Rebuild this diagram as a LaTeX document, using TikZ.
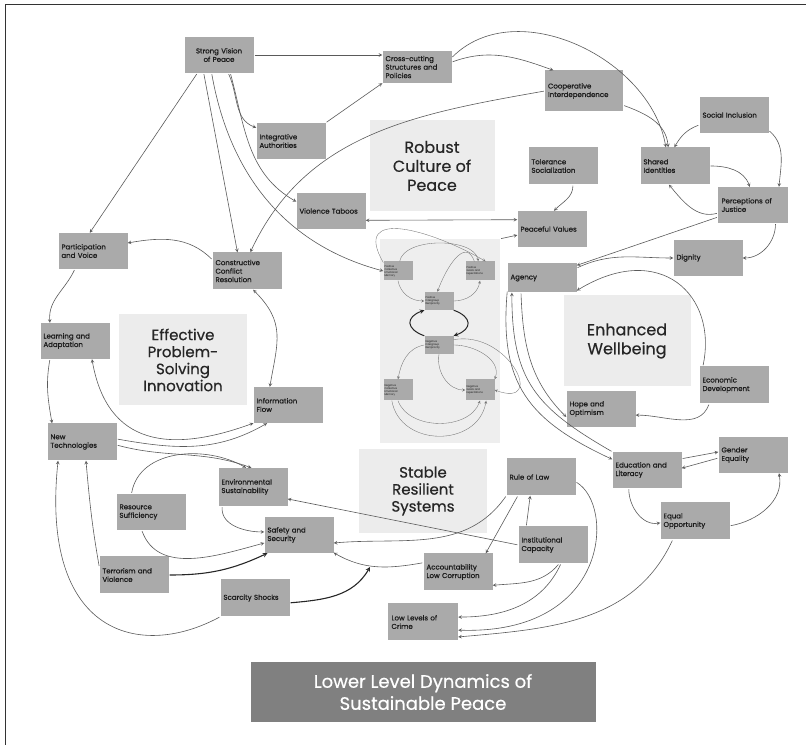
\documentclass[tikz,border=0pt]{standalone}
\usepackage{fontspec}
\setmainfont{Poppins}
\newfontfamily\labelfont{Poppins}[FakeBold=0.9]
\newfontfamily\areafont{Poppins}[FakeBold=0.5]
\usepackage{color}
\usepackage{tikz}
\definecolor{boxgray}{RGB}{170,170,170}
\definecolor{areagray}{RGB}{236,236,236}
\definecolor{panelgray}{RGB}{238,238,238}
\definecolor{titlegray}{RGB}{128,128,128}
\definecolor{linegray}{RGB}{90,90,90}
\definecolor{textdark}{RGB}{28,28,28}

\begin{document}
\begin{tikzpicture}
[x=1pt,y=1pt,>=stealth,
 factor/.style={rectangle,fill=boxgray,text=textdark,minimum width=69pt,minimum height=36pt,text width=63pt,align=left,inner sep=3pt,font=\labelfont\fontsize{7}{8.5}\selectfont},
 area/.style={rectangle,fill=areagray,text=black!85,align=center,inner sep=2pt,font=\areafont\fontsize{16}{19}\selectfont},
 minibox/.style={rectangle,fill=boxgray,text=textdark,minimum width=29pt,minimum height=19pt,text width=27pt,align=left,inner sep=1pt,font=\fontsize{2.6}{3}\selectfont},
 titlebox/.style={rectangle,fill=titlegray,text=white,minimum width=345pt,minimum height=60pt,align=center,font=\areafont\fontsize{18}{22}\selectfont},
 causal/.style={->,shorten <=1pt,draw=linegray,line width=0.6pt},
 mutual/.style={<->,draw=linegray,line width=0.6pt},
 strong/.style={->,shorten <=1pt,draw=black!85,line width=1.1pt},
 miniarc/.style={->,draw=black!55,line width=0.35pt},
 miniloop/.style={->,draw=black!85,line width=1pt},
 frameline/.style={draw=black!80,line width=1pt}]
\useasboundingbox (0,0) rectangle (812,745);
\draw[frameline] (5,0) -- (5,740) -- (806,740);

\node[area,minimum width=125pt,minimum height=91pt] (culture) at (432,579) {Robust\\Culture of\\Peace};
\node[area,minimum width=128pt,minimum height=91pt,font=\areafont\fontsize{15}{17}\selectfont] (problem) at (183,385) {Effective\\Problem-\\Solving\\Innovation};
\node[area,minimum width=127pt,minimum height=91pt] (wellbeing) at (627,404) {Enhanced\\Wellbeing};
\node[area,minimum width=128pt,minimum height=84pt,font=\areafont\fontsize{15}{17}\selectfont] (stable) at (423,254) {Stable\\Resilient\\Systems};
\node[rectangle,fill=panelgray,minimum width=120pt,minimum height=204pt] (panel) at (440,404) {};

\node[minibox] (posmem) at (398,474) {Positive\\Collective\\Emotional\\Memory};
\node[minibox] (posgoal) at (480,474) {Positive\\Goals and\\Expectations};
\node[minibox,minimum width=28pt,minimum height=18pt] (posrecip) at (439,444) {Positive\\Intergroup\\Reciprocity};
\node[minibox,minimum width=28pt,minimum height=18pt] (negrecip) at (439,400) {Negative\\Intergroup\\Reciprocity};
\node[minibox,minimum height=21pt] (negmem) at (398,355) {Negative\\Collective\\Emotional\\Memory};
\node[minibox,minimum height=21pt] (neggoal) at (480,355) {Negative\\Goals and\\Expectations};

\node[factor,align=center,minimum height=36pt] (vision) at (219,690) {Strong Vision\\of Peace};
\node[factor,minimum height=32pt] (crosscut) at (417,678) {Cross-cutting\\Structures and\\Policies};
\node[factor,minimum width=78pt,minimum height=41pt,text width=72pt] (coop) at (584,654) {Cooperative\\Interdependence};
\node[factor] (socinc) at (734,630) {Social Inclusion};
\node[factor,minimum height=37pt] (shared) at (675,579) {Shared\\Identities};
\node[factor,minimum width=70pt] (justice) at (753,540) {Perceptions of\\Justice};
\node[factor,minimum height=37pt] (tolerance) at (563,579) {Tolerance\\Socialization};
\node[factor] (peaceful) at (552,516) {Peaceful Values};
\node[factor] (integr) at (291,604) {Integrative\\Authorities};
\node[factor] (taboos) at (331,534) {Violence Taboos};
\node[factor] (particip) at (93,494) {Participation\\and Voice};
\node[factor,minimum height=37pt] (ccr) at (247,474) {Constructive\\Conflict\\Resolution};
\node[factor] (learning) at (75,404) {Learning and\\Adaptation};
\node[factor] (infoflow) at (288,340) {Information\\Flow};
\node[factor,minimum height=37pt] (newtech) at (82,303) {New\\Technologies};
\node[factor,minimum height=29pt] (agency) at (542,467) {Agency};
\node[factor] (dignity) at (708,487) {Dignity};
\node[factor,minimum width=67pt,minimum height=37pt] (econ) at (734,360) {Economic\\Development};
\node[factor] (hope) at (601,336) {Hope and\\Optimism};
\node[factor] (edu) at (647,275) {Education and\\Literacy};
\node[factor] (gender) at (753,290) {Gender\\Equality};
\node[factor,minimum height=37pt] (equal) at (695,224) {Equal\\Opportunity};
\node[factor,minimum height=37pt] (rulelaw) at (541,268) {Rule of Law};
\node[factor,minimum height=37pt] (instcap) at (553,200) {Institutional\\Capacity};
\node[factor,minimum height=37pt] (account) at (458,173) {Accountability\\Low Corruption};
\node[factor,minimum width=70pt,minimum height=37pt] (crime) at (423,123) {Low Levels of\\Crime};
\node[factor,minimum height=38pt] (envsust) at (253,258) {Environmental\\Sustainability};
\node[factor] (resource) at (151,233) {Resource\\Sufficiency};
\node[factor] (safety) at (299,210) {Safety and\\Security};
\node[factor,minimum height=37pt] (terror) at (134,170) {Terrorism and\\Violence};
\node[factor,minimum height=37pt] (scarcity) at (255,147) {Scarcity Shocks};
\coordinate (shockend) at (370,178);

\node[titlebox] (title) at (423,53) {Lower Level Dynamics of\\Sustainable Peace};

\draw[causal] (vision.east) -- (vision.east -| crosscut.west);
\draw[causal] (vision.-140) -- (particip.100);
\draw[causal] (vision.-130) -- (ccr.117);
\draw[causal] (vision.-112) to [out=-80,in=165] (posmem.west);
\draw[causal] (vision.-63) to [out=-65,in=160] (integr.159);
\draw[causal] (vision.-58) to [out=-75,in=150] (taboos.165);
\draw[causal] (crosscut.8) to [out=20,in=160] (coop.146);
\draw[causal] (crosscut.15) to [out=45,in=100] (shared.116);
\draw[causal] (integr.north east) -- (crosscut.south west);
\draw[causal] (coop.west) to [out=190,in=65] (ccr.80);
\draw[causal] (coop.-20) to [out=-20,in=95] (shared.110);
\draw[causal] (socinc.196) to [out=200,in=60] (shared.92);
\draw[causal] (socinc.-24) to [out=-40,in=85] (justice.35);
\draw[causal] (shared.east) to [out=0,in=110] (justice.100);
\draw[causal] (justice.193) to [out=195,in=-50] (shared.-108);
\draw[causal] (tolerance.-62) to [out=-90,in=45] (peaceful.84);
\draw[mutual] (taboos.-15) -- (peaceful.165);
\draw[causal] (panel.north east) -- (peaceful.190);

\draw[causal] (justice.199) -- (agency.20);
\draw[causal] (agency.16) to [out=25,in=180] (dignity.west);
\draw[causal] (justice.-39) to [out=-90,in=0] (dignity.east);
\draw[causal] (econ.149) .. controls (718,450) and (660,505) .. (agency.-20);
\draw[causal] (econ.-143) to [out=-110,in=0] (hope.-10);
\draw[causal] (agency.-145) to [out=-88,in=135] (hope.193);
\draw[causal] (edu.north west) to [out=150,in=-90,looseness=1.2] (agency.-154);
\draw[causal] (agency.-160) to [out=-95,in=155,looseness=1.2] (edu.163);
\draw[causal] (edu.18) -- (gender.175);
\draw[causal] (gender.185) -- (edu.3);
\draw[causal] (edu.-135) to [out=-90,in=190] (equal.183);
\draw[causal] (equal.-8) to [out=10,in=-80] (gender.-35);
\draw[causal] (equal.-140) to [out=-115,in=5] (crime.-23);

\draw[causal] (rulelaw.-8) .. controls (615,240) and (610,110) .. (crime.-13);
\draw[causal] (instcap.-67) to [out=-115,in=0] (crime.8);
\draw[causal] (instcap.-72) to [out=-130,in=5] (account.-21);
\draw[causal] (instcap.145) -- (rulelaw.-120);
\draw[causal] (rulelaw.-141) -- (account.34);
\draw[causal] (rulelaw.south west) to [out=-125,in=5] (safety.-13);
\draw[causal] (instcap.west) -- (envsust.-19);
\draw[causal] (account.165) to [out=190,in=-30] (safety.-27);
\draw[strong] (scarcity.-8) to [out=5,in=-120] (shockend);
\draw[strong] (terror.east) to [out=0,in=-155] (safety.-150);
\draw[causal] (envsust.-148) to [out=-95,in=180] (safety.175);
\draw[causal] (resource.-117) to [out=-70,in=195] (safety.-167);
\draw[causal] (resource.137) to [out=80,in=150] (envsust.110);
\draw[causal] (newtech.-5) to [out=-15,in=160] (envsust.95);

\draw[causal] (newtech.5) to [out=-10,in=-150] (infoflow.-139);
\draw[mutual] (learning.-47) to [out=-80,in=-160,looseness=1.3] (infoflow.south west);
\draw[mutual] (ccr.-72) to [out=-45,in=80,looseness=1.2] (infoflow.135);
\draw[causal] (ccr.162) to [out=135,in=10] (particip.13);
\draw[causal] (particip.-135) to [out=-115,in=95] (learning.144);
\draw[causal] (learning.-144) to [out=-100,in=100] (newtech.148);
\draw[causal] (terror.167) to [out=100,in=-85] (newtech.-78);
\draw[causal] (scarcity.south west) .. controls (140,85) and (40,110) .. (newtech.-142);

\draw[miniloop] (negrecip.north west) to [out=160,in=200,looseness=2] (posrecip.south west);
\draw[miniloop] (posrecip.south east) to [out=-20,in=20,looseness=2] (negrecip.north east);
\draw[miniarc] (posmem.80) to [out=80,in=100,looseness=0.8] (posgoal.100);
\draw[miniarc] (posgoal.120) to [out=110,in=70,looseness=1.4] (posrecip.100);
\draw[miniarc] (posmem.south) to [out=-80,in=180] (posrecip.west);
\draw[miniarc] (posrecip.east) to [out=0,in=-100] (posgoal.south);
\draw[miniarc] (posmem.150) to [out=120,in=150,looseness=1.6] (posgoal.60);
\draw[miniarc] (negrecip.west) to [out=190,in=80] (negmem.north);
\draw[miniarc] (negrecip.south) to [out=-100,in=180] (neggoal.west);
\draw[miniarc] (negrecip.east) to [out=0,in=70] (neggoal.north east);
\draw[miniarc] (negmem.south) to [out=-70,in=-110] (neggoal.south);
\draw[miniarc] (negmem.-120) to [out=-80,in=-100,looseness=1.3] (neggoal.-60);
\draw[miniarc] (negrecip.20) to [out=10,in=-20,looseness=2.2] (neggoal.east);
\end{tikzpicture}
\end{document}
